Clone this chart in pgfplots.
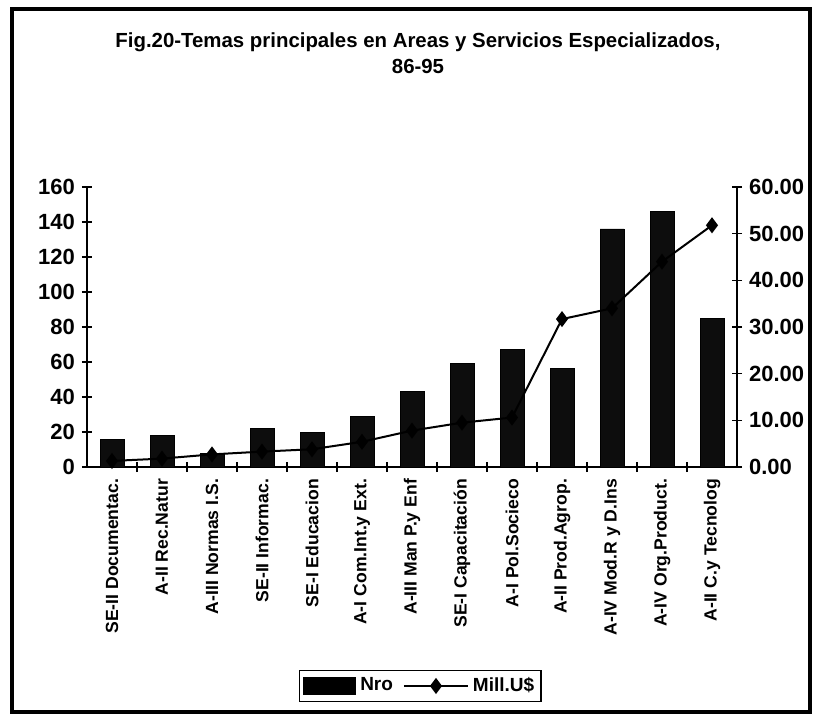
\documentclass[border=0pt]{standalone}
\usepackage{pgfplots}
\pgfplotsset{compat=1.18}
\usepackage{fontspec}
\setmainfont{Liberation Sans}

\begin{document}
\begin{tikzpicture}[x=1pt,y=1pt]
\useasboundingbox (0,0) rectangle (410.5,359.5);
\draw[line width=2pt] (6,3.5) rectangle (405,355);
\node[font=\bfseries\fontsize{10.2}{13}\selectfont, align=center] at (209,333)
  {Fig.20-Temas principales en Areas y Servicios Especializados,\\86-95};

% bars, left axis
\begin{axis}[
    at={(43.5pt,126pt)}, anchor=south west,
    scale only axis, width=325pt, height=140pt,
    xmin=-0.5, xmax=12.5, ymin=0, ymax=160,
    axis x line*=bottom, axis y line*=left,
    axis line style={line width=0.9pt},
    ytick={0,20,...,160},
    xtick={0,...,12},
    xticklabels={SE-II Documentac., A-II Rec.Natur, A-III Normas I.S., SE-II Informac.,
        SE-I Educacion, A-I Com.Int.y Ext., A-III Man P.y Enf, SE-I Capacitación,
        A-I Pol.Socieco, A-II Prod.Agrop., A-IV Mod.R y D.Ins, A-IV Org.Product.,
        A-II C.y Tecnolog},
    x tick label style={rotate=90, anchor=east, font=\bfseries\fontsize{8.8}{10}\selectfont},
    y tick label style={font=\bfseries\fontsize{11}{13}\selectfont},
    /pgf/number format/assume math mode=true,
    major x tick style={draw=none},
    minor xtick={0.5,1.5,...,11.5},
    tick align=center, major tick length=5pt, minor tick length=5pt,
    tick style={black, line width=0.8pt},
]
\addplot[ybar, bar width=12pt, fill=black!95, draw=black] coordinates {
    (0,16) (1,18) (2,8) (3,22) (4,20) (5,29) (6,43)
    (7,59) (8,67) (9,56.5) (10,136) (11,146) (12,85)};
\end{axis}

% line, right axis
\begin{axis}[
    at={(43.5pt,126pt)}, anchor=south west,
    scale only axis, width=325pt, height=140pt,
    xmin=-0.5, xmax=12.5, ymin=0, ymax=60,
    axis x line=none, axis y line*=right,
    axis line style={line width=0.9pt},
    ytick={0,10,...,60},
    /pgf/number format/fixed, /pgf/number format/fixed zerofill,
    /pgf/number format/precision=2,
    y tick label style={font=\bfseries\fontsize{11}{13}\selectfont},
    /pgf/number format/assume math mode=true,
    tick align=center, major tick length=5pt,
    tick style={black, line width=0.8pt},
    legend style={at={(axis description cs:0.513,-0.782)}, anchor=center,
        legend columns=2, draw=black, line width=0.8pt,
        font=\bfseries\fontsize{9.5}{11}\selectfont,
        inner sep=1.5pt,
        /tikz/every even column/.append style={column sep=3pt}},
    legend cell align=left,
]
\addlegendimage{legend image code/.code={\fill[black] (0pt,-4pt) rectangle (26pt,4pt);}}
\addlegendentry{Nro}
\addplot[black, line width=1pt, mark=diamond*, mark size=3.2pt,
    legend image code/.code={\draw[black, line width=1pt, mark=diamond*,
        mark size=3.2pt, mark repeat=2, mark phase=2]
        plot coordinates {(0pt,0pt) (16pt,0pt) (32pt,0pt)};}]
    coordinates {
    (0,1.3) (1,1.8) (2,2.7) (3,3.3) (4,3.8) (5,5.4) (6,7.8)
    (7,9.5) (8,10.6) (9,31.7) (10,34) (11,44) (12,51.8)};
\addlegendentry{Mill.U\$}
\end{axis}
\end{tikzpicture}
\end{document}
